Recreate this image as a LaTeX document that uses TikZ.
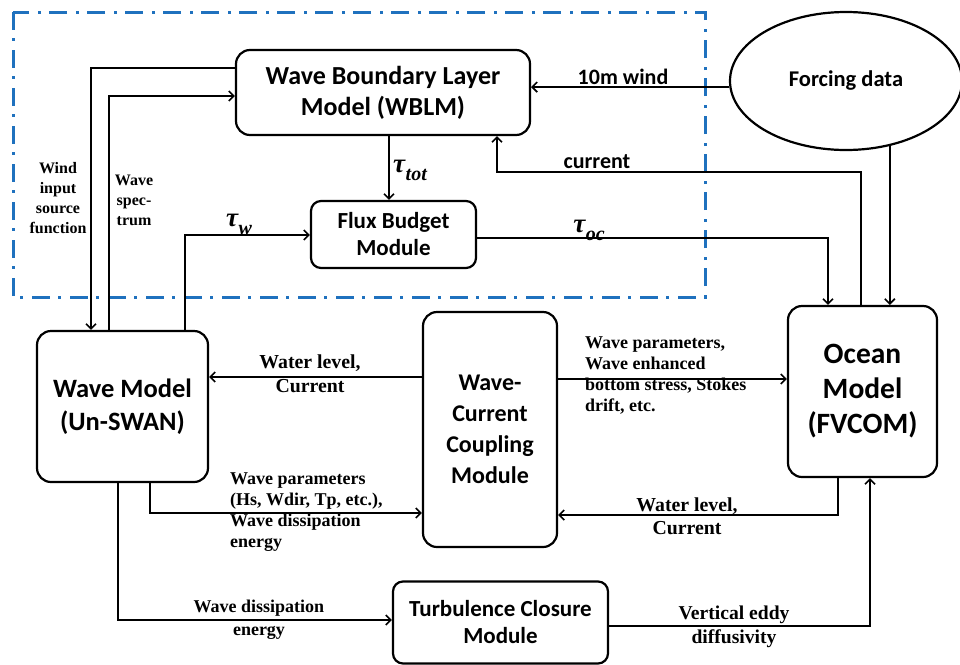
\documentclass[tikz,border=0pt]{standalone}
\usepackage{fontspec}
\setmainfont{Liberation Serif}
\newfontfamily\cbr{Carlito}
\usetikzlibrary{arrows.meta,shapes.geometric}
\definecolor{dashblue}{RGB}{31,113,190}
\newcommand\mytau[1]{{\bfseries\itshape τ\kern0.5pt\raisebox{-0.3em}{\fontsize{20}{20}\selectfont #1}}}
\begin{document}
\begin{tikzpicture}[x=1pt,y=-1pt,
  box/.style={draw, line width=2.2pt, rounded corners=14pt, align=center, inner sep=0pt,
    font=\cbr\bfseries\fontsize{26}{31}\selectfont},
  smallbox/.style={box, rounded corners=10pt, font=\cbr\bfseries\fontsize{23}{27}\selectfont},
  lab/.style={font=\bfseries\fontsize{18}{21}\selectfont, align=center, inner sep=0pt},
  sanslab/.style={font=\cbr\bfseries\fontsize{22}{25}\selectfont, inner sep=0pt},
  taulab/.style={font=\fontsize{27}{30}\selectfont, inner sep=0pt},
  arr/.style={line width=1.6pt, -{Straight Barb[length=5pt,width=10pt]}},
  dashframe/.style={draw=dashblue, line width=3pt, dash pattern=on 18pt off 8pt on 3pt off 9pt}]
\useasboundingbox (0,0) rectangle (960,664);

% dashed frame
\draw[dashframe] (13,12) rectangle (705,297);

% nodes
\node[box, minimum width=294pt, minimum height=85pt] (wblm) at (383,92.5) {Wave Boundary Layer\\Model (WBLM)};
\node[smallbox, minimum width=165pt, minimum height=67pt] (flux) at (393.5,234.5) {Flux Budget\\Module};
\node[ellipse, draw, line width=2.2pt, minimum width=232pt, minimum height=138pt, inner sep=0pt,
      font=\cbr\bfseries\fontsize{22.5}{26}\selectfont] (forcing) at (846,81) {Forcing data};
\node[box, minimum width=149pt, minimum height=171pt, font=\cbr\bfseries\fontsize{29.5}{35}\selectfont] (ocean) at (862.5,391.5) {Ocean\\Model\\(FVCOM)};
\node[box, minimum width=171pt, minimum height=151pt, font=\cbr\bfseries\fontsize{26.5}{33}\selectfont] (wave) at (122.5,406.5) {Wave Model\\(Un-SWAN)};
\node[box, minimum width=134pt, minimum height=235pt, font=\cbr\bfseries\fontsize{24}{31}\selectfont] (wcc) at (490,429.5) {Wave-\\Current\\Coupling\\Module};
\node[smallbox, minimum width=215pt, minimum height=82pt] (turb) at (500.5,622.5) {Turbulence Closure\\Module};

% helper coordinates
\coordinate (wi) at (91,68);
\coordinate (ws) at (109,96);
\coordinate (tw) at (185,235);
\coordinate (tt) at (389,0);
\coordinate (toc) at (828,238);
\coordinate (cu1) at (861,172);
\coordinate (cu) at (497,172);
\coordinate (a1) at (0,377);
\coordinate (a2) at (0,379);
\coordinate (b1) at (150,513);
\coordinate (b2) at (838,515);
\coordinate (c1) at (118,620);
\coordinate (c2) at (870,626);

% connectors
\draw[arr] (forcing.183) -- (forcing.183 -| wblm.east);
\draw[arr] (forcing.-56) -- (forcing.-56 |- ocean.north);
\draw[arr] (cu1 |- ocean.north) -- (cu1) -- (cu) -- (cu |- wblm.south);
\draw[arr] (toc -| flux.east) -- (toc) -- (toc |- ocean.north);
\draw[arr] (tt |- wblm.south) -- (tt |- flux.north);
\draw[arr] (tw |- wave.north) -- (tw) -- (tw -| flux.west);
\draw[arr] (wi -| wblm.west) -- (wi) -- (wi |- wave.north);
\draw[arr] (ws |- wave.north) -- (ws) -- (ws -| wblm.west);
\draw[arr] (wcc.west |- a1) -- (wave.east |- a1);
\draw[arr] (wcc.east |- a2) -- (ocean.west |- a2);
\draw[arr] (b1 |- wave.south) -- (b1) -- (b1 -| wcc.west);
\draw[arr] (b2 |- ocean.south) -- (b2) -- (b2 -| wcc.east);
\draw[arr] (c1 |- wave.south) -- (c1) -- (c1 -| turb.west);
\draw[arr] (c2 -| turb.east) -- (c2) -- (c2 |- ocean.south);

% labels
\node[sanslab] (l10m) at (623,77) {10m wind};
\node[sanslab] (lcur) at (597,162) {current};
\node[taulab] (ltot) at (410,170) {\mytau{tot}};
\node[taulab] (ltw) at (239,224) {\mytau{w}};
\node[taulab] (ltoc) at (589,230) {\mytau{oc}};
\node[lab, font=\bfseries\fontsize{16}{20.3}\selectfont] (lwi) at (58,198) {Wind\\input\\source\\function};
\node[lab, font=\bfseries\fontsize{16}{20}\selectfont] (lws) at (134,200) {Wave\\spec-\\trum};
\node[lab, font=\bfseries\fontsize{19.8}{24}\selectfont] (lwl1) at (310,374) {Water level,\\Current};
\node[lab, align=left, anchor=west] (lwp1) at (585,375) {Wave parameters,\\Wave enhanced\\bottom stress, Stokes\\drift, etc.};
\node[lab, align=left, anchor=west] (lwp2) at (230,512) {Wave parameters\\(Hs, Wdir, Tp, etc.),\\Wave dissipation\\energy};
\node[lab, font=\bfseries\fontsize{19.8}{23}\selectfont] (lwl2) at (687,516) {Water level,\\Current};
\node[lab, font=\bfseries\fontsize{18}{23}\selectfont] (lwd) at (259,620) {Wave dissipation\\energy};
\node[lab, font=\bfseries\fontsize{19.6}{24}\selectfont] (lved) at (734,627) {Vertical eddy\\diffusivity};
\end{tikzpicture}
\end{document}
